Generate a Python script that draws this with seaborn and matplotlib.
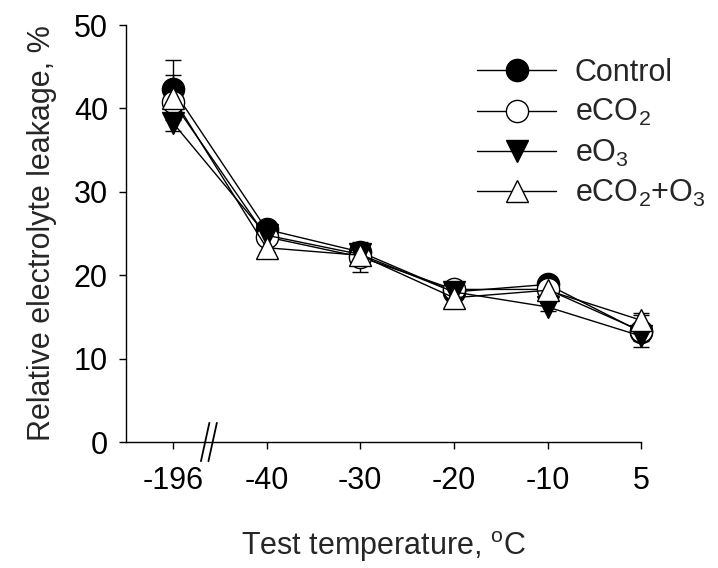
import numpy as np
import pandas as pd
import seaborn as sns
import matplotlib.pyplot as plt

# Data
temps = ["-196", "-40", "-30", "-20", "-10", "5"]
control = [42.3, 25.5, 22.8, 18.0, 18.9, 13.2]
eco2 = [40.8, 24.6, 22.2, 18.3, 18.3, 13.3]
eo3 = [38.3, 24.8, 22.5, 18.0, 16.2, 12.7]
eco2_o3 = [41.3, 23.3, 22.4, 17.3, 18.2, 14.6]

control_se = [3.5, 0.6, 0.6, 0.5, 0.6, 0.8]
eco2_se = [1.5, 0.6, 1.8, 0.5, 0.5, 1.9]
eo3_se = [1.0, 0.5, 0.6, 0.6, 0.5, 0.6]
eco2_o3_se = [2.7, 0.5, 0.6, 1.1, 0.6, 0.9]

series_names = ["Control", "eCO$_2$", "eO$_3$", "eCO$_2$+O$_3$"]
series_vals = [control, eco2, eo3, eco2_o3]
series_se = [control_se, eco2_se, eo3_se, eco2_o3_se]
markers = ["o", "o", "v", "^"]
faces = ["black", "white", "black", "white"]

sns.set_style("ticks")
plt.rcParams["font.family"] = ["Liberation Sans", "DejaVu Sans"]
plt.rcParams["mathtext.fontset"] = "custom"
plt.rcParams["mathtext.rm"] = "Liberation Sans"
plt.rcParams["mathtext.it"] = "Liberation Sans"
plt.rcParams["mathtext.default"] = "regular"

fs = 22

fig = plt.figure(figsize=(7.18, 5.68), dpi=100)
ax = fig.add_axes([0.1755, 0.2218, 0.7175, 0.734])

x = np.arange(len(temps))
for name, vals, se, m, fc in zip(series_names, series_vals, series_se, markers, faces):
    eb = ax.errorbar(x, vals, yerr=se, fmt="none", ecolor="black", elinewidth=1,
                     capsize=6, capthick=1, zorder=2)
    for art in eb.get_children():
        art.set_clip_on(False)
    df = pd.DataFrame({"pos": x, "val": vals})
    sns.lineplot(data=df, x="pos", y="val", ax=ax, color="black", linewidth=1,
                 marker=m, markersize=16, markerfacecolor=fc,
                 markeredgecolor="black", markeredgewidth=1, label=name,
                 zorder=3)

for ln in ax.lines:
    ln.set_clip_on(False)

ax.set_xlim(-0.5, 5)
ax.set_ylim(0, 50)
ax.set_xticks(x)
ax.set_xticklabels(temps)
ax.set_yticks([0, 10, 20, 30, 40, 50])
ax.tick_params(axis="both", labelsize=fs, length=5, width=1, direction="out",
               colors="black")
ax.tick_params(axis="x", pad=12)
ax.tick_params(axis="y", pad=8)
for s in ["left", "bottom"]:
    ax.spines[s].set_linewidth(1)
    ax.spines[s].set_color("black")
sns.despine(ax=ax)

ax.set_xlabel("Test temperature, $^{o}$C", fontsize=fs, labelpad=24)
ax.set_ylabel("Relative electrolyte leakage, %", fontsize=fs, labelpad=12)

# axis break marks between -196 and -40
for dx in (-0.04, 0.04):
    ax.plot([0.34 + dx, 0.43 + dx], [-2.3, 2.3], color="black", lw=1.3,
            clip_on=False, zorder=5)

leg = ax.legend(loc="upper right", bbox_to_anchor=(1.16, 0.965), frameon=False,
                fontsize=fs, handlelength=2.6, handletextpad=0.6,
                labelspacing=0.3, borderaxespad=0.2)

fig.savefig("out.png", dpi=100)
